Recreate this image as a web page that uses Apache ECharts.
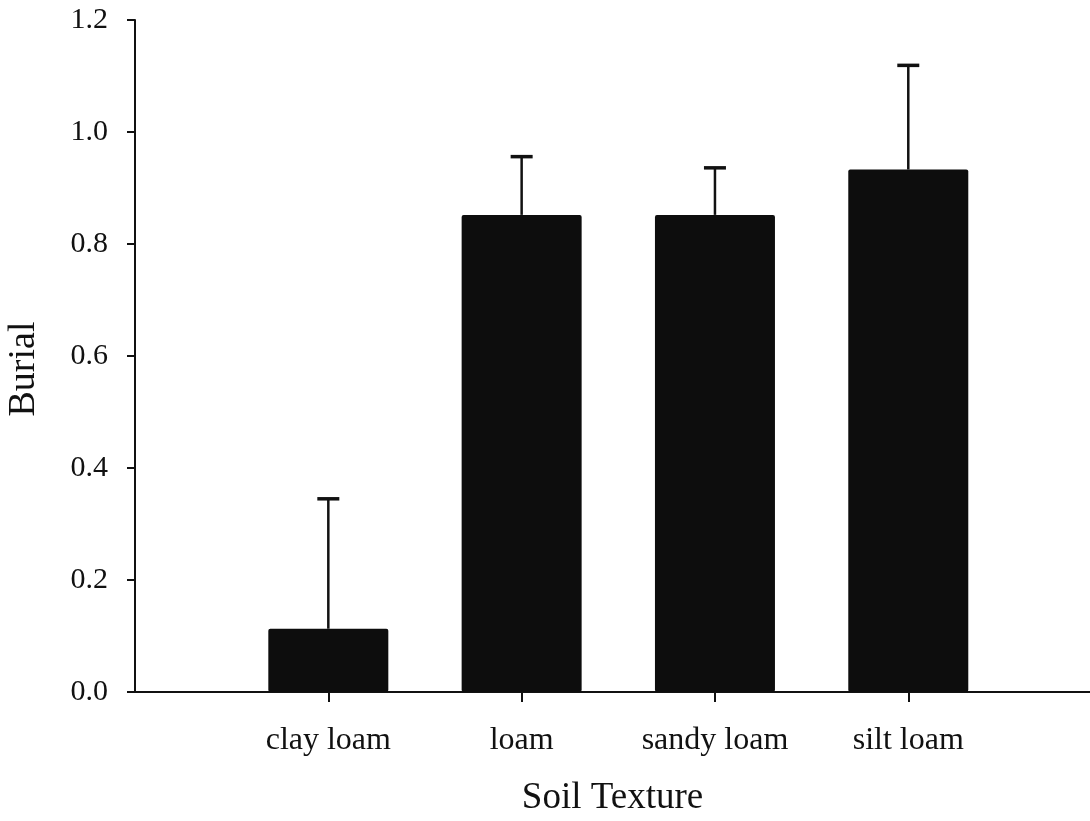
<!DOCTYPE html>
<html>
<head>
<meta charset="utf-8">
<script src="https://cdn.jsdelivr.net/npm/echarts@6/dist/echarts.min.js"></script>
<style>
html,body{margin:0;padding:0;background:#fff;}
#chart{width:1090px;height:821px;}
</style>
</head>
<body>
<div id="chart"></div>
<script>
const categories = ['clay loam', 'loam', 'sandy loam', 'silt loam'];
const means = [0.113, 0.852, 0.852, 0.933];
const errors = [0.232, 0.104, 0.084, 0.186];
const yTicks = [0, 0.2, 0.4, 0.6, 0.8, 1.0, 1.2];

const positions = categories.map((c, i) => i + 1);
const barData = means.map((v, i) => [positions[i], v]);
const errData = means.map((v, i) => [positions[i], v, v + errors[i]]);

const FONT = 'Liberation Serif';
const chart = echarts.init(document.getElementById('chart'));
chart.setOption({
  animation: false,
  backgroundColor: '#fff',
  grid: { left: 135, right: 0, top: 20, bottom: 129, containLabel: false, outerBoundsMode: 'none' },
  xAxis: {
    type: 'value',
    min: 0,
    max: 4.94,
    interval: 1,
    name: 'Soil Texture',
    nameLocation: 'middle',
    nameGap: 88,
    nameTextStyle: { fontFamily: FONT, fontSize: 37, color: '#111' },
    splitLine: { show: false },
    axisLine: { lineStyle: { color: '#111', width: 2 } },
    axisTick: { show: true, length: 10, lineStyle: { color: '#111', width: 2 }, customValues: positions },
    axisLabel: {
      customValues: positions,
      margin: 33,
      fontFamily: FONT, fontSize: 32, color: '#111',
      formatter: v => categories[Math.round(v) - 1] || ''
    }
  },
  yAxis: {
    type: 'value',
    min: 0,
    max: 1.2,
    interval: 0.2,
    name: 'Burial',
    nameLocation: 'middle',
    nameGap: 92,
    nameRotate: 90,
    nameTextStyle: { fontFamily: FONT, fontSize: 38, color: '#111', padding: [0, 26, 0, 0] },
    splitLine: { show: false },
    axisLine: { show: true, lineStyle: { color: '#111', width: 2 } },
    axisTick: { show: true, length: 8, lineStyle: { color: '#111', width: 2 } },
    axisLabel: {
      customValues: yTicks,
      margin: 27,
      fontFamily: FONT, fontSize: 30, color: '#111',
      formatter: v => Number(v).toFixed(1)
    }
  },
  series: [
    {
      type: 'bar',
      data: barData,
      barWidth: 120,
      itemStyle: { color: '#0d0d0d', borderRadius: 2 }
    },
    {
      type: 'custom',
      data: errData,
      z: 3,
      renderItem: function (params, api) {
        const x = api.value(0);
        const p0 = api.coord([x, api.value(1)]);
        const p1 = api.coord([x, api.value(2)]);
        const half = 11;
        return {
          type: 'group',
          children: [
            { type: 'line', shape: { x1: p0[0], y1: p0[1], x2: p1[0], y2: p1[1] }, style: { stroke: '#111', lineWidth: 2.5 } },
            { type: 'line', shape: { x1: p1[0] - half, y1: p1[1], x2: p1[0] + half, y2: p1[1] }, style: { stroke: '#111', lineWidth: 3.5 } }
          ]
        };
      }
    }
  ]
});
</script>
</body>
</html>
